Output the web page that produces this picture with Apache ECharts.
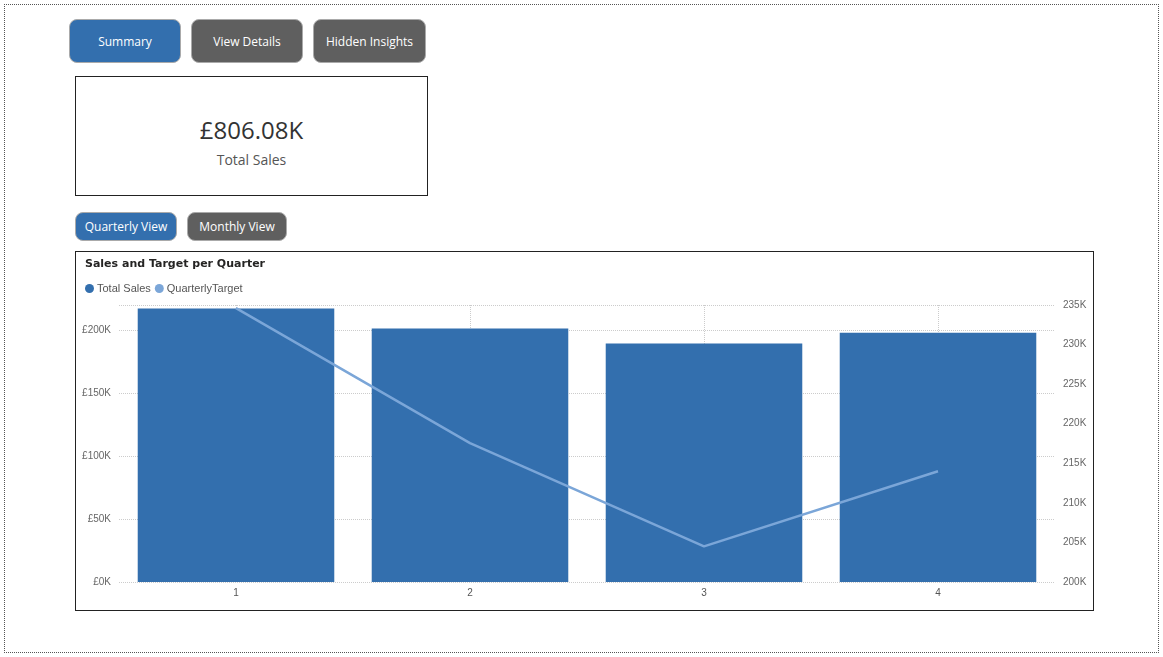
<!DOCTYPE html>
<html><head><meta charset="utf-8">
<script src="https://cdn.jsdelivr.net/npm/echarts@6/dist/echarts.min.js"></script>
<style>
  body { margin:0; width:1163px; height:657px; background:#fff; font-family:"Segoe UI","Open Sans",sans-serif; position:relative; overflow:hidden; }
  .frame { position:absolute; left:4px; top:4px; width:1153px; height:647px; border:1px dotted #555; }
  .btn { position:absolute; color:#fff; font-size:12px; display:flex; align-items:center; justify-content:center; border-radius:8px; border:1px solid #aaa; box-sizing:border-box; }
  .blue { background:#336FAE; }
  .grey { background:#5f5f5f; }
  .card { position:absolute; left:75px; top:76px; width:353px; height:120px; border:1px solid #222; box-sizing:border-box; text-align:center; }
  #chart { position:absolute; left:75px; top:251px; width:1019px; height:360px; border:1px solid #222; box-sizing:border-box; }
</style></head>
<body>
<div class="frame"></div>
<div class="btn blue" style="left:69px;top:19px;width:112px;height:44px">Summary</div>
<div class="btn grey" style="left:191px;top:19px;width:112px;height:44px">View Details</div>
<div class="btn grey" style="left:313px;top:19px;width:113px;height:44px">Hidden Insights</div>
<div class="card">
  <div style="margin-top:36px;font-size:24px;color:#333">£806.08K</div>
  <div style="margin-top:4px;font-size:14px;color:#555">Total Sales</div>
</div>
<div class="btn blue" style="left:75px;top:212px;width:102px;height:29px">Quarterly View</div>
<div class="btn grey" style="left:187px;top:212px;width:100px;height:29px">Monthly View</div>
<div id="chart"></div>
<script>
const quarters = ['1', '2', '3', '4'];
const totalSales = [217300, 201300, 189500, 198000];
const quarterlyTarget = [234600, 217550, 204500, 214000];

const chart = echarts.init(document.getElementById('chart'));
const k = v => '£' + Math.round(v / 1000) + 'K';
chart.setOption({
  animation: false,
  title: { text: 'Sales and Target per Quarter', left: 4, top: 2,
    textStyle: { fontSize: 11, fontWeight: 'bold', color: '#252423', fontFamily: 'DejaVu Sans' } },
  legend: { left: 4, top: 26, itemWidth: 9, itemHeight: 9, itemGap: 4, icon: 'circle',
    textStyle: { fontSize: 11, color: '#555', padding: [0, 0, 0, -2] },
    data: ['Total Sales', 'QuarterlyTarget'] },
  grid: { left: 43, right: 38, top: 53, bottom: 28 },
  xAxis: { type: 'category', data: quarters,
    axisLine: { show: false }, axisTick: { show: false },
    axisLabel: { color: '#555', fontSize: 10, margin: 6 } },
  yAxis: [
    { type: 'value', min: 0, max: 220000, interval: 50000,
      axisLabel: { formatter: k, color: '#666', fontSize: 10, showMaxLabel: false },
      splitLine: { lineStyle: { type: 'dotted', color: '#ccc' } } },
    { type: 'value', min: 200000, max: 235000, interval: 5000,
      axisLabel: { formatter: v => Math.round(v / 1000) + 'K', color: '#666', fontSize: 10 },
      splitLine: { show: false } }
  ],
  series: [
    { name: 'Total Sales', type: 'bar', data: totalSales, barCategoryGap: '16%',
      itemStyle: { color: '#336FAE' } },
    { name: 'QuarterlyTarget', type: 'line', yAxisIndex: 1, data: quarterlyTarget,
      showSymbol: false, symbol: 'circle', itemStyle: { color: '#7BA6D8' },
      lineStyle: { width: 2.5, color: '#7BA6D8' }, z: 3,
      markLine: { silent: true, symbol: 'none', label: { show: false },
        lineStyle: { type: 'dotted', color: '#ccc', width: 1 }, z: 0,
        data: quarters.map(q => ({ xAxis: q })) } }
  ]
});
</script>
</body></html>
